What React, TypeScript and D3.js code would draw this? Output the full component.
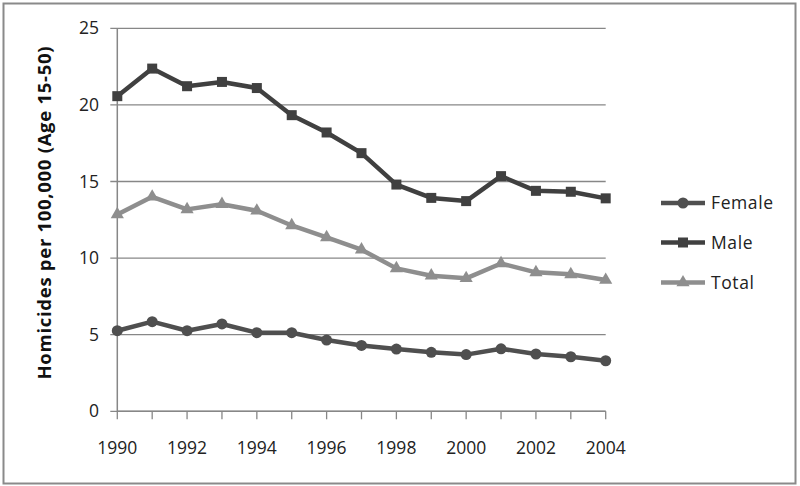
import React, { useEffect, useRef } from "react";
import * as d3 from "d3";

const years = [1990, 1991, 1992, 1993, 1994, 1995, 1996, 1997, 1998, 1999, 2000, 2001, 2002, 2003, 2004];
const female = [5.26, 5.85, 5.26, 5.7, 5.13, 5.13, 4.65, 4.3, 4.06, 3.85, 3.7, 4.08, 3.74, 3.56, 3.3];
const male = [20.57, 22.37, 21.22, 21.5, 21.1, 19.33, 18.2, 16.85, 14.8, 13.93, 13.72, 15.35, 14.39, 14.33, 13.9];
const total = [12.85, 14.0, 13.18, 13.52, 13.09, 12.13, 11.35, 10.55, 9.33, 8.85, 8.68, 9.65, 9.07, 8.94, 8.57];
const yTicks = [0, 5, 10, 15, 20, 25];
const xLabels = [1990, 1992, 1994, 1996, 1998, 2000, 2002, 2004];

const series = [
  { name: "Female", values: female, color: "#4f4f4f", marker: "circle" },
  { name: "Male", values: male, color: "#404040", marker: "square" },
  { name: "Total", values: total, color: "#8e8e8e", marker: "triangle" },
];

export default function App() {
  const svgRef = useRef<SVGSVGElement>(null);

  useEffect(() => {
    const width = 800;
    const height = 486;
    const svg = d3.select(svgRef.current);
    svg.selectAll("*").remove();
    svg.attr("width", width).attr("height", height);

    const font = "'Open Sans', sans-serif";
    const grid = "#878787";

    svg.append("rect")
      .attr("x", 3.5).attr("y", 3.5)
      .attr("width", 792).attr("height", 480)
      .attr("fill", "#fff")
      .attr("stroke", "#8a8a8a")
      .attr("stroke-width", 2);

    const x = d3.scaleLinear().domain([1990, 2004]).range([117.3, 605.7]);
    const y = d3.scaleLinear().domain([0, 25]).range([411.3, 28.3]);

    // gridlines + y ticks
    svg.append("g")
      .selectAll("line")
      .data(yTicks)
      .enter()
      .append("line")
      .attr("x1", x(1990) - 7)
      .attr("x2", x(2004))
      .attr("y1", d => y(d))
      .attr("y2", d => y(d))
      .attr("stroke", grid)
      .attr("stroke-width", 1.3);

    svg.append("g")
      .selectAll("text")
      .data(yTicks)
      .enter()
      .append("text")
      .attr("x", 99)
      .attr("y", d => y(d) + 6)
      .attr("text-anchor", "end")
      .attr("font-family", font)
      .attr("font-size", 17.5)
      .attr("fill", "#222")
      .text(d => d);

    // axes
    svg.append("line")
      .attr("x1", x(1990)).attr("x2", x(1990))
      .attr("y1", y(25)).attr("y2", y(0))
      .attr("stroke", grid).attr("stroke-width", 1.5);
    svg.append("line")
      .attr("x1", x(1990)).attr("x2", x(2004))
      .attr("y1", y(0)).attr("y2", y(0))
      .attr("stroke", grid).attr("stroke-width", 1.5);

    svg.append("g")
      .selectAll("line")
      .data(years)
      .enter()
      .append("line")
      .attr("x1", d => x(d))
      .attr("x2", d => x(d))
      .attr("y1", y(0))
      .attr("y2", y(0) + 8)
      .attr("stroke", grid)
      .attr("stroke-width", 1.3);

    svg.append("g")
      .selectAll("text")
      .data(xLabels)
      .enter()
      .append("text")
      .attr("x", d => x(d))
      .attr("y", 454)
      .attr("text-anchor", "middle")
      .attr("font-family", font)
      .attr("font-size", 17.5)
      .attr("fill", "#222")
      .text(d => d);

    svg.append("text")
      .attr("transform", "translate(51,213) rotate(-90)")
      .attr("text-anchor", "middle")
      .attr("font-family", font)
      .attr("font-weight", "bold")
      .attr("font-size", 18.5)
      .attr("textLength", 333)
      .attr("lengthAdjust", "spacing")
      .attr("fill", "#111")
      .text("Homicides per 100,000 (Age 15-50)");

    const line = d3.line<number>()
      .x((_, i) => x(years[i]))
      .y(d => y(d));

    const drawMarker = (g: any, kind: string, cx: number, cy: number, color: string) => {
      if (kind === "circle") {
        g.append("circle").attr("cx", cx).attr("cy", cy).attr("r", 5.5).attr("fill", color);
      } else if (kind === "square") {
        g.append("rect").attr("x", cx - 5).attr("y", cy - 5).attr("width", 10).attr("height", 10).attr("fill", color);
      } else {
        const sym = d3.symbol().type(d3.symbolTriangle).size(75);
        g.append("path").attr("transform", `translate(${cx},${cy})`).attr("d", sym()).attr("fill", color);
      }
    };

    // draw in order Total, Female, Male
    [series[2], series[0], series[1]].forEach(s => {
      const g = svg.append("g");
      g.append("path")
        .datum(s.values)
        .attr("d", line)
        .attr("fill", "none")
        .attr("stroke", s.color)
        .attr("stroke-width", 4.5)
        .attr("stroke-linejoin", "round");
      s.values.forEach((v, i) => drawMarker(g, s.marker, x(years[i]), y(v), s.color));
    });

    // legend
    const legendY = [203, 242.5, 282.5];
    series.forEach((s, i) => {
      const g = svg.append("g");
      const ly = legendY[i];
      g.append("line")
        .attr("x1", 661).attr("x2", 705)
        .attr("y1", ly).attr("y2", ly)
        .attr("stroke", s.color)
        .attr("stroke-width", 4.5);
      drawMarker(g, s.marker, 683, ly, s.color);
      g.append("text")
        .attr("x", 711)
        .attr("y", ly + 6)
        .attr("font-family", font)
        .attr("font-size", 17.5)
        .attr("letter-spacing", 0.6)
        .attr("fill", "#222")
        .text(s.name);
    });
  }, []);

  return (
    <div style={{ position: "absolute", left: 0, top: 0 }}>
      <svg ref={svgRef} style={{ display: "block" }} />
    </div>
  );
}
